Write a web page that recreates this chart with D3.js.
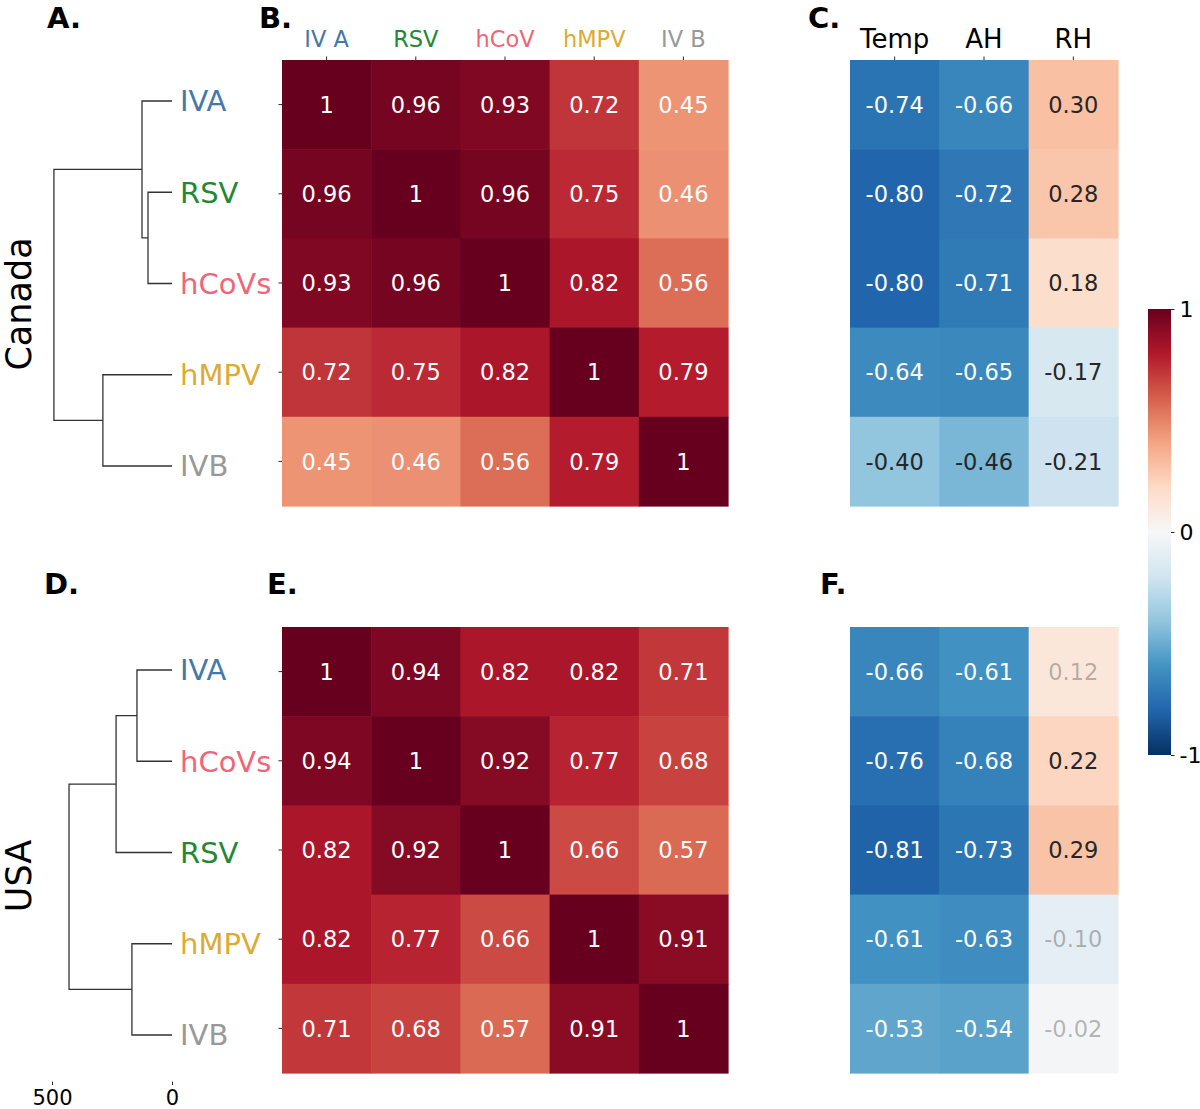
<!DOCTYPE html>
<html>
<head>
<meta charset="utf-8">
<script src="https://cdn.jsdelivr.net/npm/d3@7"></script>
<style>
  body { margin: 0; background: #fff; }
  svg { font-family: "DejaVu Sans", sans-serif; }
</style>
</head>
<body>
<svg id="fig" width="1200" height="1109"></svg>
<script>
// Column labels of the virus correlation heatmaps
let virusCols = ["IV A", "RSV", "hCoV", "hMPV", "IV B"];
let climateCols = ["Temp", "AH", "RH"];

// Leaf order of each dendrogram (same as heatmap rows)
let canadaLeaves = ["IVA", "RSV", "hCoVs", "hMPV", "IVB"];
let usaLeaves = ["IVA", "hCoVs", "RSV", "hMPV", "IVB"];

// Leaf label colours
let leafColors = {
  IVA: "#4477AA",
  RSV: "#228833",
  hCoVs: "#EE6677",
  hMPV: "#DDAA33",
  IVB: "#999999",
};
let colColors = ["#4477AA", "#228833", "#EE6677", "#DDAA33", "#999999"];

// Linkage: [childA, childB, height]; ids >= 5 are earlier merges
let canadaLinkage = [
  [1, 2, 100],
  [0, 5, 125],
  [3, 4, 288],
  [6, 7, 492],
];
let usaLinkage = [
  [0, 1, 146],
  [5, 2, 233],
  [3, 4, 167],
  [6, 7, 429],
];

// Correlation values
let canadaVirus = [
  [1, 0.96, 0.93, 0.72, 0.45],
  [0.96, 1, 0.96, 0.75, 0.46],
  [0.93, 0.96, 1, 0.82, 0.56],
  [0.72, 0.75, 0.82, 1, 0.79],
  [0.45, 0.46, 0.56, 0.79, 1],
];
let canadaClimate = [
  [-0.74, -0.66, 0.3],
  [-0.8, -0.72, 0.28],
  [-0.8, -0.71, 0.18],
  [-0.64, -0.65, -0.17],
  [-0.4, -0.46, -0.21],
];
let usaVirus = [
  [1, 0.94, 0.82, 0.82, 0.71],
  [0.94, 1, 0.92, 0.77, 0.68],
  [0.82, 0.92, 1, 0.66, 0.57],
  [0.82, 0.77, 0.66, 1, 0.91],
  [0.71, 0.68, 0.57, 0.91, 1],
];
let usaClimate = [
  [-0.66, -0.61, 0.12],
  [-0.76, -0.68, 0.22],
  [-0.81, -0.73, 0.29],
  [-0.61, -0.63, -0.1],
  [-0.53, -0.54, -0.02],
];
// non-significant cells shown faded
let usaClimateFaded = [
  [false, false, true],
  [false, false, false],
  [false, false, false],
  [false, false, true],
  [false, false, true],
];

let dendroTicks = [500, 0];
let colorbarTicks = [1, 0, -1];

// RdBu_r (ColorBrewer 11, linear like matplotlib)
const rdbu = ["#67001f", "#b2182b", "#d6604d", "#f4a582", "#fddbc7", "#f7f7f7",
  "#d1e5f0", "#92c5de", "#4393c3", "#2166ac", "#053061"];
const color = d3
  .scaleLinear()
  .domain(d3.range(11).map((i) => 1 - i * 0.2))
  .range(rdbu)
  .interpolate(d3.interpolateRgb);

const loc = d3.formatLocale({ decimal: ".", thousands: ",", grouping: [3], currency: ["", ""], minus: "-" });
const fmtVirus = (v) => (v === 1 ? "1" : loc.format(".2f")(v));
const fmtClimate = loc.format(".2f");

// relative luminance used to pick annotation colour
function luminance(c) {
  const rgb = d3.rgb(c);
  const lin = (x) => {
    x = x / 255;
    return x <= 0.03928 ? x / 12.92 : Math.pow((x + 0.055) / 1.055, 2.4);
  };
  return 0.2126 * lin(rgb.r) + 0.7152 * lin(rgb.g) + 0.0722 * lin(rgb.b);
}

const svg = d3.select("#fig");

// Draw one heatmap
function heatmap(data, x0, x1, y0, y1, fmt, faded, opts) {
  const nCols = data[0].length;
  const x = d3.scaleBand().domain(d3.range(nCols)).range([x0, x1]);
  const y = d3.scaleBand().domain(d3.range(data.length)).range([y0, y1]);
  const g = svg.append("g");
  const cells = [];
  data.forEach((row, i) => row.forEach((v, j) => cells.push({ i, j, v })));

  g.selectAll("rect")
    .data(cells)
    .enter()
    .append("rect")
    .attr("x", (d) => x(d.j))
    .attr("y", (d) => y(d.i))
    .attr("width", x.bandwidth() + 0.6)
    .attr("height", y.bandwidth() + 0.6)
    .attr("fill", (d) => color(d.v));

  g.selectAll("text.ann")
    .data(cells)
    .enter()
    .append("text")
    .attr("class", "ann")
    .attr("x", (d) => x(d.j) + x.bandwidth() / 2)
    .attr("y", (d) => y(d.i) + y.bandwidth() / 2)
    .attr("dy", "0.36em")
    .attr("text-anchor", "middle")
    .attr("font-size", 22.5)
    .attr("fill", (d) => (luminance(color(d.v)) > 0.408 ? "#262626" : "#ffffff"))
    .attr("fill-opacity", (d) => (faded && faded[d.i][d.j] ? 0.33 : 1))
    .text((d) => fmt(d.v));

  if (opts.topLabels) {
    const ax = g.append("g").attr("transform", `translate(0,${y0})`)
      .call(d3.axisTop(x).tickSize(3.5).tickPadding(opts.topPad).tickFormat((j) => opts.topLabels[j]));
    ax.select(".domain").remove();
    ax.selectAll("line").attr("stroke", "#262626").attr("stroke-width", 1);
    ax.selectAll("text")
      .attr("font-size", opts.topSize)
      .attr("font-family", "DejaVu Sans")
      .attr("fill", (j) => (opts.topColors ? opts.topColors[j] : "#000"));
  }
  if (opts.leftTicks) {
    const ay = g.append("g").attr("transform", `translate(${x0},0)`)
      .call(d3.axisLeft(y).tickSize(3.5).tickFormat(""));
    ay.select(".domain").remove();
    ay.selectAll("line").attr("stroke", "#262626").attr("stroke-width", 1);
  }
}

// Draw a dendrogram from a linkage list, leaves growing to the right
function dendrogram(leaves, linkage, y0, y1, showAxis) {
  const x = d3.scaleLinear().domain([0, 500]).range([172, 52]);
  const y = d3.scaleLinear().domain([0, leaves.length * 10]).range([y0, y1]);
  const nodes = leaves.map((name, i) => ({ pos: 5 + i * 10, h: 0 }));
  const g = svg.append("g");

  linkage.forEach(([a, b, h]) => {
    const A = nodes[a];
    const B = nodes[b];
    const pts = [[A.h, A.pos], [h, A.pos], [h, B.pos], [B.h, B.pos]];
    g.append("path")
      .attr("d", d3.line().x((p) => x(p[0])).y((p) => y(p[1]))(pts))
      .attr("fill", "none")
      .attr("stroke", "#333333")
      .attr("stroke-width", 1.3);
    nodes.push({ pos: (A.pos + B.pos) / 2, h: h });
  });

  g.selectAll("text.leaf")
    .data(leaves)
    .enter()
    .append("text")
    .attr("class", "leaf")
    .attr("x", 180)
    .attr("y", (d, i) => y(5 + i * 10))
    .attr("dy", "0.36em")
    .attr("font-size", 29)
    .attr("fill", (d) => leafColors[d])
    .text((d) => d);

  if (showAxis) {
    const ax = g.append("g").attr("transform", `translate(0,${y1 + 1})`)
      .call(d3.axisBottom(x).tickValues(dendroTicks).tickSize(3.5).tickPadding(5));
    ax.select(".domain").remove();
    ax.selectAll("line").attr("stroke", "#262626");
    ax.selectAll("text").attr("font-size", 21).attr("font-family", "DejaVu Sans").attr("fill", "#000");
  }
}

// Panel letters
const letters = [
  ["A.", 47, 28], ["B.", 259, 28], ["C.", 808, 28],
  ["D.", 44, 594], ["E.", 267, 594], ["F.", 820, 594],
];
svg.selectAll("text.letter")
  .data(letters)
  .enter()
  .append("text")
  .attr("class", "letter")
  .attr("x", (d) => d[1])
  .attr("y", (d) => d[2])
  .attr("font-size", 29)
  .attr("font-weight", "bold")
  .text((d) => d[0]);

// Country labels
[["Canada", 304], ["USA", 876]].forEach(([t, cy]) => {
  svg.append("text")
    .attr("transform", `translate(31,${cy}) rotate(-90)`)
    .attr("text-anchor", "middle")
    .attr("font-size", 35)
    .text(t);
});

// Canada
dendrogram(canadaLeaves, canadaLinkage, 55.4, 511.6, false);
heatmap(canadaVirus, 282, 728, 60, 506, fmtVirus, null,
  { topLabels: virusCols, topColors: colColors, topSize: 22.5, topPad: 10, leftTicks: true });
heatmap(canadaClimate, 850, 1118, 60, 506, fmtClimate, null,
  { topLabels: climateCols, topSize: 26, topPad: 9 });

// USA
dendrogram(usaLeaves, usaLinkage, 624.4, 1080.6, true);
heatmap(usaVirus, 282, 728, 627, 1073, fmtVirus, null, { leftTicks: true });
heatmap(usaClimate, 850, 1118, 627, 1073, fmtClimate, usaClimateFaded, {});

// Colorbar
const cbY = d3.scaleLinear().domain([1, -1]).range([309, 755]);
const defs = svg.append("defs");
const grad = defs.append("linearGradient")
  .attr("id", "cbgrad").attr("x1", "0%").attr("x2", "0%").attr("y1", "0%").attr("y2", "100%");
d3.range(0, 1.0001, 0.05).forEach((t) => {
  grad.append("stop").attr("offset", `${t * 100}%`).attr("stop-color", color(1 - 2 * t));
});
svg.append("rect")
  .attr("x", 1148).attr("y", cbY(1)).attr("width", 23).attr("height", cbY(-1) - cbY(1))
  .attr("fill", "url(#cbgrad)");
const cbAxis = svg.append("g").attr("transform", "translate(1171,0)")
  .call(d3.axisRight(cbY).tickValues(colorbarTicks).tickSize(3.5).tickPadding(5)
    .tickFormat((v) => (v < 0 ? "-" + Math.abs(v) : String(v))));
cbAxis.select(".domain").remove();
cbAxis.selectAll("line").attr("stroke", "#262626");
cbAxis.selectAll("text").attr("font-size", 22).attr("font-family", "DejaVu Sans").attr("fill", "#000");
</script>
</body>
</html>
